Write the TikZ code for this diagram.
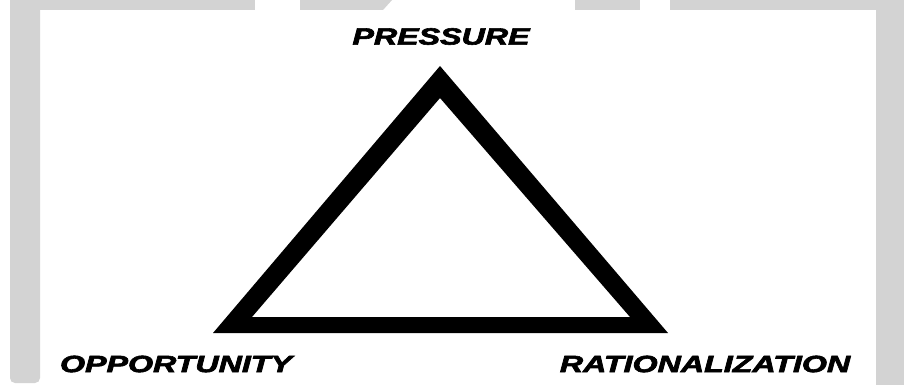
\documentclass[tikz,border=0pt]{standalone}
\usepackage{fontspec}
\setmainfont{Liberation Sans}
\newfontfamily\cornerfont[FakeBold=2.5]{Liberation Sans}
\definecolor{bggrey}{RGB}{211,211,211}

\begin{document}
\begin{tikzpicture}[x=1pt, y=-1pt,
          corner/.style={font=\cornerfont\fontsize{23.5}{24}\selectfont\bfseries\itshape,
                         xscale=1.37, inner sep=0pt},
          strip/.style={fill=bggrey}]
        \useasboundingbox (0,0) rectangle (904,385);
        \fill[white] (0,0) rectangle (904,385);
        % grey frame behind the panel
        \fill[strip, rounded corners=5pt] (10,0) -- (10,383) -- (40,383) -- (40,0) -- cycle;
        \fill[strip] (10,0) rectangle (255,10);
        \fill[strip] (300,0) -- (392,0) -- (383,10) -- (300,10) -- cycle;
        \fill[strip] (575,0) rectangle (640,10);
        \fill[strip] (670,0) rectangle (904,10);
        \fill[strip] (876,0) rectangle (904,385);
        % triangle
        \fill[even odd rule] (213,333) -- (440,66) -- (668,333) -- cycle
                             (252,317) -- (440,98) -- (630,317) -- cycle;
        \node[corner] (pr) at (441,36.5) {PRESSURE};
        \node[corner] (op) at (176,364) {OPPORTUNITY};
        \node[corner] (ra) at (705,364) {RATIONALIZATION};
      \end{tikzpicture}
\end{document}
